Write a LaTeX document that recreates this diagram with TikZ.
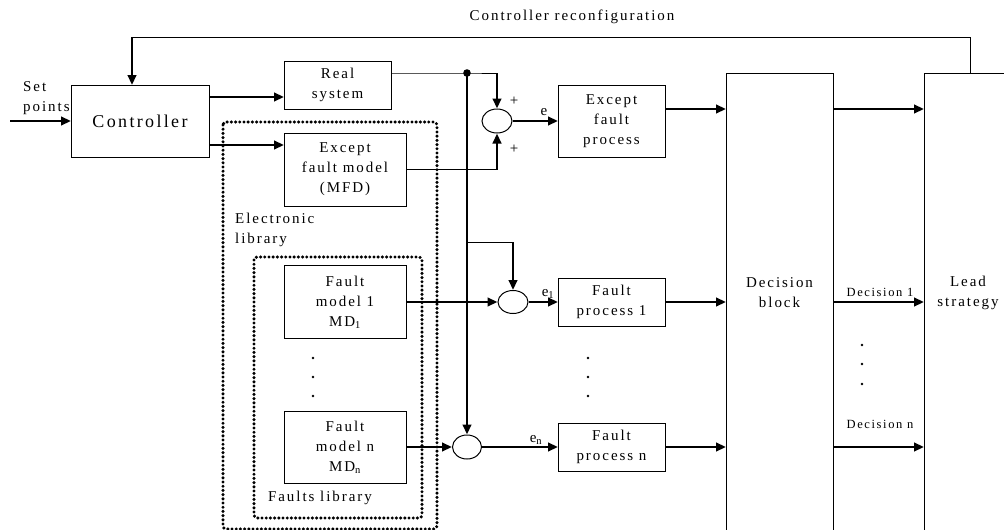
\documentclass[tikz,border=0pt]{standalone}
\usepackage{fontspec}
\setmainfont{Liberation Serif}
\newfontfamily\spaced[LetterSpace=13]{Liberation Serif}
\usetikzlibrary{positioning,arrows.meta,shapes.geometric}

\begin{document}
\begin{tikzpicture}[x=1pt, y=-1pt,
arr/.style={line width=2.4pt, -{Triangle[length=10pt,width=8.5pt]}},
wire/.style={line width=1pt},
box/.style={draw, line width=1pt, inner sep=0pt, outer sep=0pt, align=center, minimum width=107pt, minimum height=48pt, font=\spaced\fontsize{15}{20}\selectfont},
sumnode/.style={draw, ellipse, line width=1pt, minimum width=30pt, minimum height=24pt, inner sep=0pt},
dotbox/.style={line width=3.4pt, line cap=round, dash pattern=on 0pt off 4.2pt, rounded corners=3pt},
lbl/.style={inner sep=0pt, font=\spaced\fontsize{15}{20}\selectfont},
small/.style={inner sep=0pt, font=\spaced\fontsize{12.5}{15}\selectfont}]
\useasboundingbox (0,0) rectangle (1004,530);
\clip (0,0) rectangle (1004,530);
% libraries
\draw[dotbox] (223,122) rectangle (437,529);
\draw[dotbox] (254,257) rectangle (422,518);
\node[lbl, anchor=west, align=left] at (235,230) {Electronic\\library};
\node[lbl] at (320,498) {Faults library};
% blocks
\node[box, minimum width=138pt, minimum height=72pt, font=\spaced\fontsize{18}{22}\selectfont] (ctrl) at (140,121) {Controller};
\node[box] (real) at (337.5,85) {Real\\system};
\node[box, minimum width=122pt, minimum height=73pt] (mfd) at (345,169.5) {Except\\fault model\\(MFD)};
\node[box, minimum width=122pt, minimum height=73pt] (fm1) [below=59.5pt of mfd] {Fault\\model 1\\MD\textsubscript{1}};
\node[box, minimum width=122pt, minimum height=72pt] (fmn) [below=72.5pt of fm1] {Fault\\model n\\MD\textsubscript{n}};
\node[sumnode] (sum0) at (497,121) {};
\node[sumnode, minimum height=23pt] (sum1) at (513,302) {};
\node[sumnode, minimum width=29pt] (sumn) at (467,447) {};
\node[box, minimum height=72pt] (efp) at (611.5,121) {Except\\fault\\process};
\node[box] (fp1) [below=121pt of efp] {Fault\\process 1};
\node[box] (fpn) [below=97pt of fp1] {Fault\\process n};
\node[box, minimum height=470pt] (dec) at (779.5,308) {};
\node[box, minimum width=88pt, minimum height=470pt] (lead) at (968,308) {};
\node[lbl, align=center] at (779.5,293) {Decision\\block};
\node[lbl, align=center] at (968,293) {Lead\\strategy};
% texts
\node[lbl, anchor=west, align=left] at (23,98) {Set\\points};
\node[lbl] at (572,17) {Controller reconfiguration};
\node[lbl] at (514,101) {+};
\node[lbl] at (514,149) {+};
\node[lbl] at (544,112) {e};
\node[lbl] at (548,294) {e\textsubscript{1}};
\node[lbl] at (536,440) {e\textsubscript{n}};
\node[small] at (880,292) {Decision 1};
\node[small] at (880,424) {Decision n};
\foreach \x in {313,588}
  \foreach \y in {358,377,396}
    \fill (\x,\y) circle (1.4pt);
\foreach \y in {345,364,384}
  \fill (862,\y) circle (1.4pt);
% connectors
\coordinate (in) at (10,121);
\coordinate (jn) at (467,73);
\coordinate (br) at (467,242);
\coordinate (fb) at (970,37);
\coordinate (fbc) at (132,37);
\coordinate (o0) at ([yshift=12pt]efp.east);
\draw[arr] (in) -- (ctrl);
\draw[arr] ([yshift=24pt]ctrl.east) -- ([yshift=-12pt]real.west);
\draw[arr] ([yshift=-24pt]ctrl.east) -- ([yshift=24.5pt]mfd.west);
\draw[wire] ([yshift=12pt]real.east) -- (jn) -- (sum0.north |- jn);
\draw[arr] (sum0.north |- jn) -- (sum0.north);
\fill (jn) circle (3.8pt);
\draw[arr] (jn) -- (sumn.north);
\draw[wire] (br) -- (sum1.north |- br);
\draw[arr] (sum1.north |- br) -- (sum1.north);
\draw[wire] (mfd.east) -- (sum0.south |- mfd.east);
\draw[arr] (sum0.south |- mfd.east) -- (sum0.south);
\draw[arr] (fm1.east) -- (sum1.west);
\draw[arr] (fmn.east) -- (sumn.west);
\draw[arr] (sum0.east) -- (efp.west |- sum0.east);
\draw[arr] (sum1.east) -- (fp1.west);
\draw[arr] (sumn.east) -- (fpn.west);
\draw[arr] (o0) -- (o0 -| dec.west);
\draw[arr] (o0 -| dec.east) -- (o0 -| lead.west);
\draw[arr] (fp1.east) -- (fp1.east -| dec.west);
\draw[arr] (fp1.east -| dec.east) -- (fp1.east -| lead.west);
\draw[arr] (fpn.east) -- (fpn.east -| dec.west);
\draw[arr] (fpn.east -| dec.east) -- (fpn.east -| lead.west);
\draw[wire] (lead.north -| fb) -- (fb) -- (fbc);
\draw[arr] (fbc) -- (fbc |- ctrl.north);
\end{tikzpicture}
\end{document}
